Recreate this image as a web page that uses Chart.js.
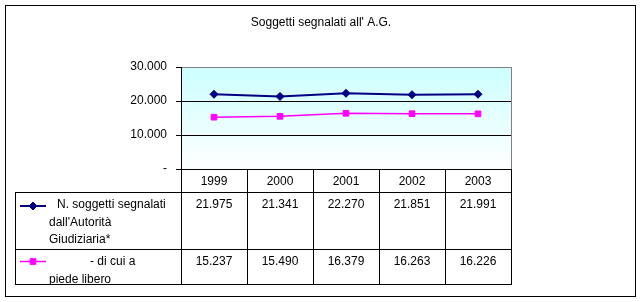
<!DOCTYPE html>
<html>
<head>
<meta charset="utf-8">
<script src="https://cdn.jsdelivr.net/npm/chart.js@4/dist/chart.umd.min.js"></script>
<style>
  html, body { margin: 0; padding: 0; background: #fff; }
  canvas { display: block; }
</style>
</head>
<body>
<canvas id="myChart" width="642" height="302"></canvas>
<script>
var years = ['1999', '2000', '2001', '2002', '2003'];
var segnalati = [21975, 21341, 22270, 21851, 21991];
var piedeLibero = [15237, 15490, 16379, 16263, 16226];
var yMax = 30000;
var yStep = 10000;
var titleText = "Soggetti segnalati all' A.G.";
var seriesNames = ["N. soggetti segnalati dall'Autorità Giudiziaria*", "- di cui a piede libero"];
var rowLines = [
    ['N. soggetti segnalati', "dall'Autorità", 'Giudiziaria*'],
    ['- di cui a', 'piede libero']
];

var colors = {
    "segnalati": "#000080",
    "piede": "#FF00FF"
};
var fontFamily = "'Liberation Sans', Arial, sans-serif";

function fmt(v) {
    if (v === 0) return '-';
    return String(v).replace(/\B(?=(\d{3})+(?!\d))/g, '.');
}

function px(v) {
    return Math.round(v) + 0.5;
}

// white page, gradient plot area, outer frame, title
var backgroundPlugin = {
    id: 'background',
    beforeDraw: (chart) => {
        var ctx = chart.ctx;
        var ca = chart.chartArea;
        ctx.save();
        ctx.fillStyle = '#fff';
        ctx.fillRect(0, 0, chart.width, chart.height);
        var grad = ctx.createLinearGradient(0, ca.top, 0, ca.bottom);
        grad.addColorStop(0, '#CCFFFF');
        grad.addColorStop(1, '#FFFFFF');
        ctx.fillStyle = grad;
        ctx.fillRect(ca.left, ca.top, ca.right - ca.left, ca.bottom - ca.top);
        ctx.strokeStyle = '#000';
        ctx.lineWidth = 1;
        ctx.strokeRect(5.5, 5.5, 630, 291);

        // title is centred on the whole frame, not on the plot
        ctx.fillStyle = '#000';
        ctx.font = '12px ' + fontFamily;
        ctx.textAlign = 'center';
        ctx.textBaseline = 'alphabetic';
        ctx.fillText(titleText, chart.width / 2, 26);
        ctx.restore();
    },
    beforeDatasetsDraw: (chart) => {
        var ctx = chart.ctx;
        var ca = chart.chartArea;
        ctx.save();
        ctx.strokeStyle = '#808080';
        ctx.lineWidth = 1;
        ctx.beginPath();
        ctx.moveTo(px(ca.right), ca.top);
        ctx.lineTo(px(ca.right), ca.bottom);
        ctx.stroke();
        ctx.restore();
    }
};

// data table under the plot
var tablePlugin = {
    id: 'dataTable',
    afterDraw: (chart) => {
        var ctx = chart.ctx;
        var ca = chart.chartArea;
        var xScale = chart.scales.x;
        var left = 15;
        var right = ca.right;
        var rowTops = [ca.bottom + 23, ca.bottom + 80, ca.bottom + 115];

        ctx.save();
        ctx.strokeStyle = '#000';
        ctx.lineWidth = 1;
        ctx.beginPath();
        rowTops.forEach((y) => {
            ctx.moveTo(left, px(y));
            ctx.lineTo(right + 1, px(y));
        });
        ctx.moveTo(px(left), px(rowTops[0]));
        ctx.lineTo(px(left), px(rowTops[2]));
        ctx.stroke();

        ctx.font = '12px ' + fontFamily;
        ctx.fillStyle = '#000';
        ctx.textBaseline = 'alphabetic';

        chart.data.datasets.forEach((ds, r) => {
            var top = rowTops[r];
            var bottom = rowTops[r + 1];

            // legend key
            var ky = top + (r === 0 ? 14 : 12.5);
            ctx.strokeStyle = ds.borderColor;
            ctx.lineWidth = ds.borderWidth;
            ctx.beginPath();
            ctx.moveTo(20, ky);
            ctx.lineTo(46, ky);
            ctx.stroke();
            ctx.fillStyle = ds.backgroundColor;
            ctx.strokeStyle = ds.borderColor;
            ctx.lineWidth = 1;
            Chart.helpers.drawPoint(ctx, {
                pointStyle: ds.pointStyle,
                radius: ds.pointRadius,
                rotation: 0,
                borderWidth: 1
            }, 33, ky);

            // label text, clipped to its cell
            ctx.save();
            ctx.beginPath();
            ctx.rect(left + 1, top + 1, ca.left - left - 1, bottom - top - 1);
            ctx.clip();
            ctx.fillStyle = '#000';
            ctx.textAlign = 'left';
            rowLines[r].forEach((line, i) => {
                var lx = i === 0 ? (r === 0 ? 57 : 90) : 49;
                ctx.fillText(line, lx, top + 16 + i * 17.5);
            });
            ctx.restore();

            // values
            ctx.fillStyle = '#000';
            ctx.textAlign = 'center';
            ds.data.forEach((v, i) => {
                ctx.fillText(fmt(v), xScale.getPixelForValue(i), top + 16);
            });
        });
        ctx.restore();
    }
};

function setupChart() {
    Chart.defaults.font.family = fontFamily;
    Chart.defaults.font.size = 12;
    Chart.defaults.color = '#000';

    var ctx = document.getElementById('myChart').getContext('2d');
    var myChart = new Chart(ctx, {
        type: 'line',
        data: {
            labels: years,
            datasets: [{
                label: seriesNames[0],
                data: segnalati,
                borderColor: colors.segnalati,
                backgroundColor: colors.segnalati,
                borderWidth: 2,
                pointStyle: 'rectRot',
                pointRadius: 4,
                pointBorderWidth: 1,
                tension: 0
            }, {
                label: seriesNames[1],
                data: piedeLibero,
                borderColor: colors.piede,
                backgroundColor: colors.piede,
                borderWidth: 1.5,
                pointStyle: 'rect',
                pointRadius: 4,
                pointBorderWidth: 1,
                tension: 0
            }]
        },
        options: {
            responsive: false,
            animation: false,
            devicePixelRatio: 1,
            layout: {
                padding: { top: 67, right: 131, bottom: 0, left: 0 }
            },
            plugins: {
                legend: { display: false },
                tooltip: { enabled: false },
                title: { display: false }
            },
            scales: {
                x: {
                    offset: true,
                    border: { color: '#000', width: 1 },
                    grid: {
                        offset: true,
                        drawOnChartArea: false,
                        drawTicks: true,
                        tickLength: 115,
                        color: '#000',
                        tickColor: '#000'
                    },
                    ticks: {
                        padding: -110,
                        maxRotation: 0,
                        color: '#000'
                    },
                    afterFit: (scale) => {
                        scale.height = 133;
                    }
                },
                y: {
                    min: 0,
                    max: yMax,
                    border: { color: '#000', width: 1 },
                    grid: {
                        color: (c) => (c.tick && c.tick.value === yMax ? '#808080' : '#000'),
                        tickColor: '#000',
                        tickLength: 5
                    },
                    ticks: {
                        stepSize: yStep,
                        padding: 9,
                        color: '#000',
                        callback: (v) => fmt(v)
                    },
                    afterFit: (scale) => {
                        scale.width = 181;
                    }
                }
            }
        },
        plugins: [backgroundPlugin, tablePlugin]
    });
}

setupChart();
</script>
</body>
</html>
